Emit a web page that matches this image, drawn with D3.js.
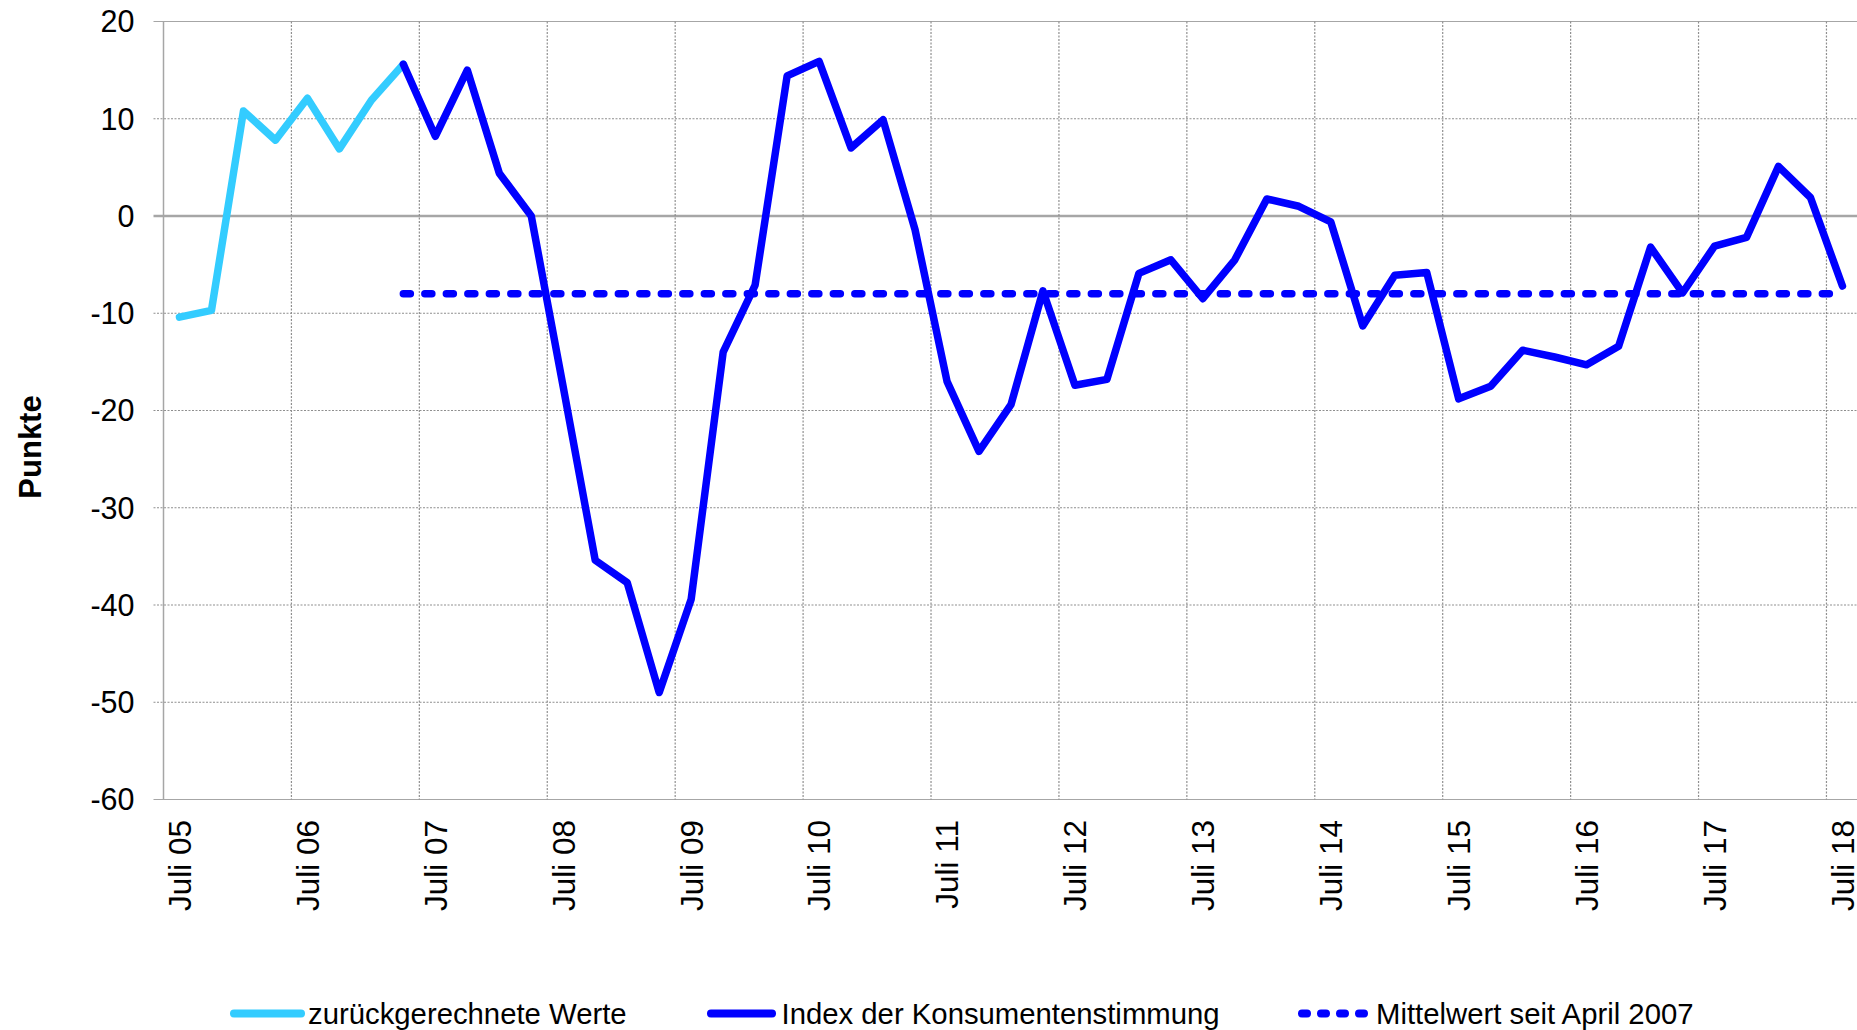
<!DOCTYPE html>
<html>
<head>
<meta charset="utf-8">
<script src="https://cdn.jsdelivr.net/npm/d3@7"></script>
<style>
    body { margin: 0; background: #fff; }
    text { font-family: "Liberation Sans", Arial, sans-serif; fill: #000; }
</style>
</head>
<body>
<svg id="chart" width="1857" height="1030"></svg>
<script>
// Quarters, Juli 05 .. Juli 18.
var categories = [
    "Juli 05","Okt 05","Jan 06","Apr 06","Juli 06","Okt 06","Jan 07","Apr 07",
    "Juli 07","Okt 07","Jan 08","Apr 08","Juli 08","Okt 08","Jan 09","Apr 09",
    "Juli 09","Okt 09","Jan 10","Apr 10","Juli 10","Okt 10","Jan 11","Apr 11",
    "Juli 11","Okt 11","Jan 12","Apr 12","Juli 12","Okt 12","Jan 13","Apr 13",
    "Juli 13","Okt 13","Jan 14","Apr 14","Juli 14","Okt 14","Jan 15","Apr 15",
    "Juli 15","Okt 15","Jan 16","Apr 16","Juli 16","Okt 16","Jan 17","Apr 17",
    "Juli 17","Okt 17","Jan 18","Apr 18","Juli 18"
];
var tickLabels = ["Juli 05","Juli 06","Juli 07","Juli 08","Juli 09","Juli 10","Juli 11",
                  "Juli 12","Juli 13","Juli 14","Juli 15","Juli 16","Juli 17","Juli 18"];
var yTicks = [20, 10, 0, -10, -20, -30, -40, -50, -60];

// Back-calculated values, Juli 05 .. Apr 07.
var backcastStart = "Juli 05";
var backcast = [-10.4, -9.7, 10.8, 7.8, 12.1, 6.9, 11.9, 15.6];

// Consumer sentiment index, Apr 07 .. Juli 18.
var indexStart = "Apr 07";
var indexValues = [
    15.6, 8.2, 15.0, 4.4, 0.0, -17.6, -35.4, -37.7, -49.0, -39.4,
    -14.0, -7.1, 14.4, 15.9, 7.0, 9.9, -1.4, -17.0, -24.2, -19.4,
    -7.7, -17.4, -16.8, -5.9, -4.5, -8.5, -4.5, 1.75, 1.0, -0.6,
    -11.3, -6.1, -5.8, -18.8, -17.5, -13.8, -14.5, -15.3, -13.4, -3.2,
    -7.9, -3.1, -2.2, 5.1, 1.9, -7.2
];

// Mean since April 2007.
var meanStart = "Apr 07";
var meanEnd = "Juli 18";
var meanValue = -8.0;

var legendLabels = ["zurückgerechnete Werte", "Index der Konsumentenstimmung", "Mittelwert seit April 2007"];

var lightBlue = "#33ccff";
var darkBlue = "#0000ff";
var gridColor = "#8f8f8f";
var axisColor = "#a6a6a6";

var svg = d3.select("#chart");

// Plot area.
var plotLeft = 163.5, plotTop = 21.5, plotBottom = 799.5, plotRight = 1857;
var x = d3.scaleBand().domain(categories).range([plotLeft, plotLeft + categories.length * 31.98]);
var y = d3.scaleLinear().domain([-60, 20]).range([plotBottom, plotTop]);
var cx = function(c) { return x(c) + x.bandwidth() / 2; };

// Turn a series with a start category into points.
var toPoints = function(start, values) {
    var i0 = categories.indexOf(start);
    return values.map(function(v, i) { return { c: categories[i0 + i], v: v }; });
};

var solidLine = function(d) { return d === 0 || d === 20 || d === -60; };

// Horizontal gridlines (dotted), zero, top and bottom lines solid.
svg.append("g")
    .selectAll("line")
    .data(yTicks)
    .enter()
    .append("line")
    .attr("x1", plotLeft - 10)
    .attr("x2", plotRight)
    .attr("y1", function(d) { return y(d); })
    .attr("y2", function(d) { return y(d); })
    .attr("stroke", function(d) { return solidLine(d) ? axisColor : gridColor; })
    .attr("stroke-width", function(d) { return d === 0 ? 2.5 : 1.2; })
    .attr("stroke-dasharray", function(d) { return solidLine(d) ? null : "2,1.5"; });

// Vertical gridlines at every fourth category boundary.
var vGrid = categories.filter(function(c, i) { return i > 0 && i % 4 === 0; });
svg.append("g")
    .selectAll("line")
    .data(vGrid)
    .enter()
    .append("line")
    .attr("x1", function(c) { return x(c); })
    .attr("x2", function(c) { return x(c); })
    .attr("y1", plotTop)
    .attr("y2", plotBottom)
    .attr("stroke", gridColor)
    .attr("stroke-width", 1.2)
    .attr("stroke-dasharray", "2,1.5");

// Y axis line.
svg.append("line")
    .attr("x1", plotLeft).attr("x2", plotLeft)
    .attr("y1", plotTop).attr("y2", plotBottom)
    .attr("stroke", axisColor)
    .attr("stroke-width", 1.5);

// Y tick labels.
svg.append("g")
    .selectAll("text")
    .data(yTicks)
    .enter()
    .append("text")
    .attr("x", 134.5)
    .attr("y", function(d) { return y(d); })
    .attr("dy", "0.36em")
    .attr("text-anchor", "end")
    .style("font-size", "30.5px")
    .text(function(d) { return d; });

// X tick labels, rotated.
svg.append("g")
    .selectAll("text")
    .data(tickLabels)
    .enter()
    .append("text")
    .attr("transform", function(c) { return "translate(" + cx(c) + ",820) rotate(-90)"; })
    .attr("dy", "0.36em")
    .attr("text-anchor", "end")
    .style("font-size", "31.5px")
    .text(function(c) { return c; });

// Axis title.
svg.append("text")
    .attr("transform", "translate(30,447) rotate(-90)")
    .attr("dy", "0.36em")
    .attr("text-anchor", "middle")
    .style("font-size", "31px")
    .style("font-weight", "bold")
    .text("Punkte");

var line = d3.line()
    .x(function(p) { return cx(p.c); })
    .y(function(p) { return y(p.v); });

// Mean line.
svg.append("path")
    .datum([{ c: meanStart, v: meanValue }, { c: meanEnd, v: meanValue }])
    .attr("d", line)
    .attr("fill", "none")
    .attr("stroke", darkBlue)
    .attr("stroke-width", 7.5)
    .attr("stroke-linecap", "round")
    .attr("stroke-dasharray", "7,14.5");

// Back-calculated series.
svg.append("path")
    .datum(toPoints(backcastStart, backcast))
    .attr("d", line)
    .attr("fill", "none")
    .attr("stroke", lightBlue)
    .attr("stroke-width", 7.5)
    .attr("stroke-linejoin", "round")
    .attr("stroke-linecap", "round");

// Index series.
svg.append("path")
    .datum(toPoints(indexStart, indexValues))
    .attr("d", line)
    .attr("fill", "none")
    .attr("stroke", darkBlue)
    .attr("stroke-width", 7.5)
    .attr("stroke-linejoin", "round")
    .attr("stroke-linecap", "round");

// Legend.
var legendY = 1013.5;
var legendItems = [
    { label: legendLabels[0], color: lightBlue, dash: null, x0: 234, x1: 301, tx: 308 },
    { label: legendLabels[1], color: darkBlue, dash: null, x0: 711, x1: 772, tx: 781.5 },
    { label: legendLabels[2], color: darkBlue, dash: "5,14", x0: 1302, x1: 1366, tx: 1376 }
];

var legend = svg.append("g")
    .selectAll("g")
    .data(legendItems)
    .enter()
    .append("g");

legend.append("line")
    .attr("x1", function(d) { return d.x0; })
    .attr("x2", function(d) { return d.x1; })
    .attr("y1", legendY)
    .attr("y2", legendY)
    .attr("stroke", function(d) { return d.color; })
    .attr("stroke-width", 8)
    .attr("stroke-linecap", "round")
    .attr("stroke-dasharray", function(d) { return d.dash; });

legend.append("text")
    .attr("x", function(d) { return d.tx; })
    .attr("y", legendY)
    .attr("dy", "0.36em")
    .style("font-size", "29.3px")
    .text(function(d) { return d.label; });
</script>
</body>
</html>
